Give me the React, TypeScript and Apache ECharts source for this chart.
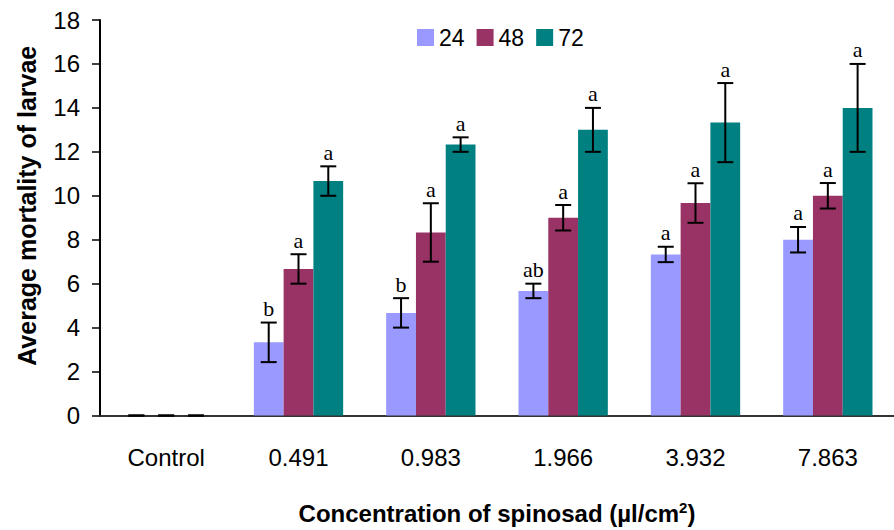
import React, { useEffect, useRef } from "react";
import * as echarts from "echarts";

const categories = ["Control", "0.491", "0.983", "1.966", "3.932", "7.863"];
const seriesNames = ["24", "48", "72"];
const h24 = [0, 3.33, 4.67, 5.67, 7.33, 8.0];
const h48 = [0, 6.67, 8.33, 9.0, 9.67, 10.0];
const h72 = [0, 10.67, 12.33, 13.0, 13.33, 14.0];
const err24 = [0, 0.9, 0.67, 0.33, 0.35, 0.58];
const err48 = [0, 0.67, 1.33, 0.58, 0.9, 0.58];
const err72 = [0, 0.67, 0.33, 1.0, 1.8, 2.0];
const letters24 = ["", "b", "b", "ab", "a", "a"];
const letters48 = ["", "a", "a", "a", "a", "a"];
const letters72 = ["", "a", "a", "a", "a", "a"];
const colors = ["#9999FF", "#993366", "#008080"];

const BAR_RATIO = 0.225;

export default function App() {
  const ref = useRef<HTMLDivElement>(null);
  useEffect(() => {
    if (!ref.current) return;
    const chart = echarts.init(ref.current, null, { renderer: "svg" });
    const values = [h24, h48, h72];
    const errs = [err24, err48, err72];
    const letters = [letters24, letters48, letters72];

    const barSeries = values.map((v, i) => ({
      name: seriesNames[i],
      type: "bar",
      data: v,
      barWidth: (BAR_RATIO * 100).toFixed(1) + "%",
      barGap: "0%",
      itemStyle: { color: colors[i] },
    }));

    const errSeries = values.map((v, i) => ({
      name: "err" + seriesNames[i],
      type: "custom",
      data: v.map((val, k) => [k, val, errs[i][k]]),
      encode: { x: 0, y: 1 },
      z: 10,
      renderItem: (params: any, api: any) => {
        const idx = api.value(0);
        const val = api.value(1);
        const e = api.value(2);
        const letter = letters[i][idx];
        const c = api.coord([idx, val]);
        const bandW = api.size([1, 0])[0];
        const barW = bandW * BAR_RATIO;
        const x = c[0] + (i - 1) * barW;
        const top = api.coord([idx, val + e])[1];
        const bot = api.coord([idx, val - e])[1];
        const capHalf = 8;
        const lineStyle = { stroke: "#000", lineWidth: 2 };
        const children: any[] = [
          { type: "line", shape: { x1: x, y1: top, x2: x, y2: bot }, style: lineStyle },
          { type: "line", shape: { x1: x - capHalf, y1: top, x2: x + capHalf, y2: top }, style: lineStyle },
          { type: "line", shape: { x1: x - capHalf, y1: bot, x2: x + capHalf, y2: bot }, style: lineStyle },
        ];
        if (letter) {
          children.push({
            type: "text",
            style: {
              text: letter,
              x: x,
              y: top - 3,
              textAlign: "center",
              textVerticalAlign: "bottom",
              fontFamily: "Liberation Serif",
              fontSize: 22,
              fill: "#000",
            },
          });
        }
        return { type: "group", children };
      },
    }));

    chart.setOption({
      animation: false,
      textStyle: { fontFamily: "Liberation Sans" },
      legend: {
        data: seriesNames,
        left: 412,
        top: 21,
        itemWidth: 17,
        itemHeight: 17,
        itemGap: 12,
        icon: "rect",
        textStyle: { fontSize: 23, color: "#000", fontFamily: "Liberation Sans" },
      },
      grid: { left: 100, right: 0, top: 20, bottom: 108 },
      xAxis: {
        type: "category",
        data: categories,
        name: "{b|Concentration of spinosad (µl/cm}{s|2}{b|)}",
        nameLocation: "middle",
        nameGap: 84,
        nameTextStyle: {
          rich: {
            b: { fontSize: 24, fontWeight: "bold", color: "#000", fontFamily: "Liberation Sans" },
            s: { fontSize: 15, fontWeight: "bold", color: "#000", fontFamily: "Liberation Sans", verticalAlign: "top", padding: [0, 0, 12, 0] },
          },
        },
        axisLine: { lineStyle: { color: "#333", width: 2 } },
        axisTick: { length: 9, lineStyle: { color: "#000", width: 2 } },
        axisLabel: { fontSize: 24, color: "#000", margin: 30, fontFamily: "Liberation Sans" },
      },
      yAxis: {
        type: "value",
        min: 0,
        max: 18,
        interval: 2,
        name: "Average mortality of larvae",
        nameLocation: "middle",
        nameGap: 61,
        nameRotate: 90,
        nameTextStyle: { fontSize: 25, fontWeight: "bold", color: "#000", fontFamily: "Liberation Sans", padding: [0, 0, 0, 24] },
        axisLine: { show: true, lineStyle: { color: "#000", width: 2 } },
        axisTick: { show: true, length: 8, lineStyle: { color: "#000", width: 1.5 } },
        axisLabel: { fontSize: 24, color: "#000", margin: 20, fontFamily: "Liberation Sans" },
        splitLine: { show: false },
      },
      series: [...barSeries, ...errSeries],
    });
    return () => chart.dispose();
  }, []);
  return (
    <div
      ref={ref}
      style={{ position: "fixed", left: 0, top: 0, width: 894, height: 530, background: "#fff" }}
    />
  );
}
